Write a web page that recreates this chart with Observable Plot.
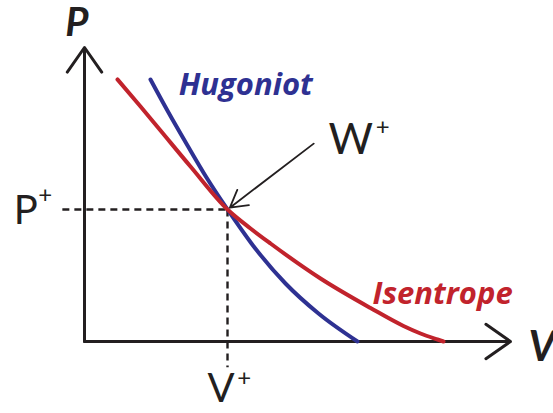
<!DOCTYPE html>
<html>
<head>
<meta charset="utf-8">
<script src="https://cdn.jsdelivr.net/npm/d3@7"></script>
<script src="https://cdn.jsdelivr.net/npm/@observablehq/plot@0.6"></script>
<style>
  html, body { margin: 0; padding: 0; background: #fff; }
  svg { display: block; }
</style>
</head>
<body>
<div id="chart"></div>
<script>
// Isentrope and Hugoniot curves in the P–V plane, meeting at the state W+
const isentropeV = [0.775, 1.315, 1.784, 2.488, 3.357, 3.897, 4.366, 5.540, 6.714, 7.488, 7.887, 8.286, 8.427];
const isentropeP = [8.912, 7.993, 7.177, 5.952, 4.490, 3.844, 3.333, 2.143, 1.139, 0.527, 0.272, 0.068, 0.0];
const hugoniotV = [1.549, 1.972, 2.418, 2.864, 3.357, 3.920, 4.718, 5.493, 6.408];
const hugoniotP = [8.912, 7.789, 6.667, 5.578, 4.490, 3.333, 1.973, 0.952, 0.0];

// Tangency state W+ = (V+, P+)
const Vplus = 3.357;
const Pplus = 4.49;

const axisMax = 10;
const curveLabels = ["Hugoniot", "Isentrope"];

const ink = "#231f20";
const red = "#c1232c";
const blue = "#2e3192";
const font = "Lato, 'Open Sans', sans-serif";
const labelFont = "'Open Sans', Lato, sans-serif";

const isentrope = isentropeV.map((v, i) => ({V: v, P: isentropeP[i]}));
const hugoniot = hugoniotV.map((v, i) => ({V: v, P: hugoniotP[i]}));

const link = {x1: "x1", y1: "y1", x2: "x2", y2: "y2"};

const chart = Plot.plot({
  width: 553,
  height: 413,
  margin: 0,
  style: {fontFamily: font, background: "#fff"},
  x: {domain: [0, axisMax], range: [84, 510], axis: null},
  y: {domain: [0, axisMax], range: [341, 47], axis: null},
  marks: [
    // dashed guides to the axes
    Plot.link([{x1: -0.52, y1: Pplus, x2: Vplus, y2: Pplus}], {
      ...link, stroke: ink, strokeWidth: 2.4, strokeDasharray: "7,5"
    }),
    Plot.link([{x1: Vplus, y1: Pplus, x2: Vplus, y2: -0.88}], {
      ...link, stroke: ink, strokeWidth: 2.4, strokeDasharray: "7,5"
    }),
    // axes with arrowheads
    Plot.arrow([{x1: 0, y1: 0, x2: axisMax, y2: 0}], {
      ...link, stroke: ink, strokeWidth: 3, headLength: 15, headAngle: 70
    }),
    Plot.arrow([{x1: 0, y1: 0, x2: 0, y2: axisMax}], {
      ...link, stroke: ink, strokeWidth: 3, headLength: 15, headAngle: 70
    }),
    // curves
    Plot.line(hugoniot, {x: "V", y: "P", stroke: blue, strokeWidth: 4, curve: "monotone-x"}),
    Plot.line(isentrope, {x: "V", y: "P", stroke: red, strokeWidth: 4, curve: "monotone-x"}),
    // pointer to W+
    Plot.arrow([{x1: 5.38, y1: 6.73, x2: Vplus, y2: Pplus}], {
      ...link, stroke: ink, strokeWidth: 1.8, headLength: 16, headAngle: 60, insetEnd: 3
    }),
    // axis titles
    Plot.text(["P"], {x: -0.45, y: 10.38, text: d => d, textAnchor: "start", lineAnchor: "bottom",
      fontSize: 40, fontWeight: "bold", fontStyle: "italic", fill: ink}),
    Plot.text(["V"], {x: 10.42, y: -0.65, text: d => d, textAnchor: "start", lineAnchor: "bottom",
      fontSize: 42, fontWeight: "bold", fontStyle: "italic", fill: ink}),
    // curve names
    Plot.text([curveLabels[0]], {x: 2.21, y: 8.37, text: d => d, textAnchor: "start", lineAnchor: "bottom",
      fontFamily: labelFont, fontSize: 31, fontWeight: "bold", fontStyle: "italic", fill: blue}),
    Plot.text([curveLabels[1]], {x: 6.76, y: 1.26, text: d => d, textAnchor: "start", lineAnchor: "bottom",
      fontFamily: labelFont, fontSize: 31, fontWeight: "bold", fontStyle: "italic", fill: red}),
    // state labels
    Plot.text(["W"], {x: 5.73, y: 6.39, text: d => d, textAnchor: "start", lineAnchor: "bottom",
      fontSize: 43, fill: ink}),
    Plot.text(["+"], {x: 7.0, y: 7.28, text: d => d, textAnchor: "middle", lineAnchor: "middle",
      fontSize: 24, fill: ink}),
    Plot.text(["P"], {x: -1.66, y: 3.98, text: d => d, textAnchor: "start", lineAnchor: "bottom",
      fontSize: 40, fill: ink}),
    Plot.text(["+"], {x: -0.92, y: 4.97, text: d => d, textAnchor: "middle", lineAnchor: "middle",
      fontSize: 24, fill: ink}),
    Plot.text(["V"], {x: 2.89, y: -2.07, text: d => d, textAnchor: "start", lineAnchor: "bottom",
      fontSize: 40, fill: ink}),
    Plot.text(["+"], {x: 3.75, y: -1.26, text: d => d, textAnchor: "middle", lineAnchor: "middle",
      fontSize: 24, fill: ink})
  ]
});

document.getElementById("chart").appendChild(chart);
</script>
</body>
</html>
